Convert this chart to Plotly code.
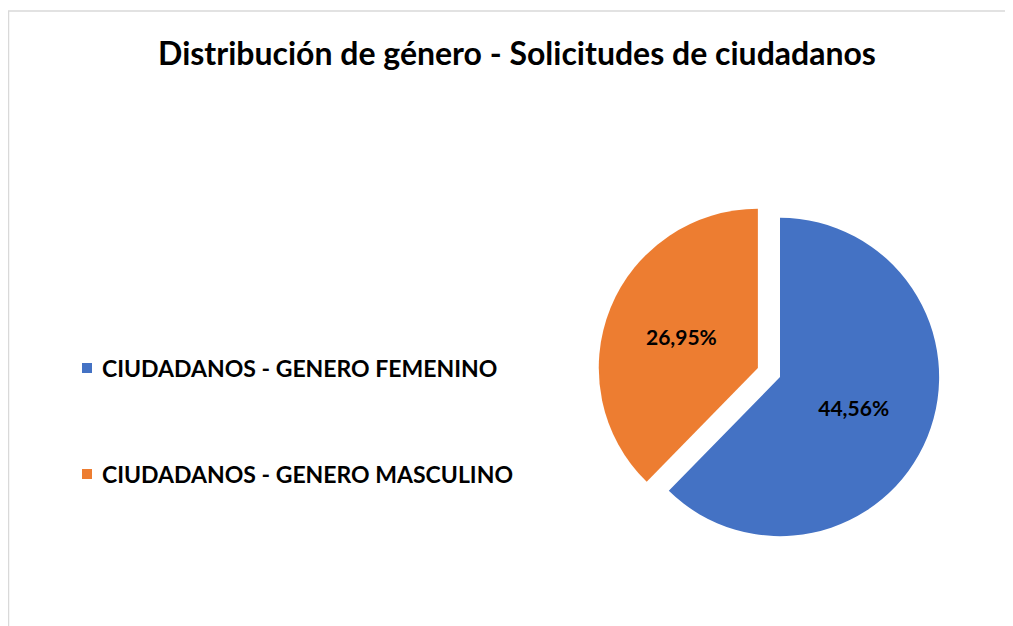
import plotly.graph_objects as go

labels = ["CIUDADANOS - GENERO FEMENINO", "CIUDADANOS - GENERO MASCULINO"]
values = [44.56, 26.95]
value_text = ["44,56%", "26,95%"]
colors = ["#4472C4", "#ED7D31"]
pulls = [0, 0.15]
title_text = "Distribución de género - Solicitudes de ciudadanos"

W, H = 1013, 626
OFF = 8  # page body margin in the browser
FONT = "Lato"


def px(x):
    return (x - OFF) / W


def py(y):
    return 1 - (y - OFF) / H


CX, CY, HALF = 780, 377, 183

fig = go.Figure()
fig.add_trace(go.Pie(
    labels=labels,
    values=values,
    text=value_text,
    textinfo="text",
    textposition="inside",
    insidetextorientation="horizontal",
    textfont=dict(family=FONT, size=21, color="black", weight="bold"),
    marker=dict(colors=colors, line=dict(width=0)),
    pull=pulls,
    sort=False,
    direction="clockwise",
    rotation=0,
    showlegend=False,
    hoverinfo="label+text",
    domain=dict(x=[px(CX - HALF), px(CX + HALF)], y=[py(CY + HALF), py(CY - HALF)]),
))

# Legend drawn as annotations + square swatches
legend_y = [368, 474]
shapes = [dict(type="rect", xref="paper", yref="paper",
               x0=px(8.5), x1=1.05, y0=-0.05, y1=py(11),
               line=dict(color="#D9D9D9", width=1.5), fillcolor="rgba(0,0,0,0)")]
annotations = []
for lab, col, yy in zip(labels, colors, legend_y):
    shapes.append(dict(type="rect", xref="paper", yref="paper",
                       x0=px(82), x1=px(92), y0=py(yy + 5), y1=py(yy - 5),
                       fillcolor=col, line=dict(width=0)))
    annotations.append(dict(text=lab, xref="paper", yref="paper",
                            x=px(100), y=py(yy), xanchor="left", yanchor="middle",
                            showarrow=False,
                            font=dict(family=FONT, size=23, color="black", weight="bold")))

fig.update_layout(
    width=W, height=H,
    margin=dict(l=0, r=0, t=0, b=0),
    paper_bgcolor="white",
    plot_bgcolor="white",
    title=dict(text=title_text, x=px(517), xanchor="center", y=py(54), yanchor="middle",
               yref="container",
               font=dict(family=FONT, size=32, color="black", weight="bold")),
    shapes=shapes,
    annotations=annotations,
)

fig.write_html("out.html")
